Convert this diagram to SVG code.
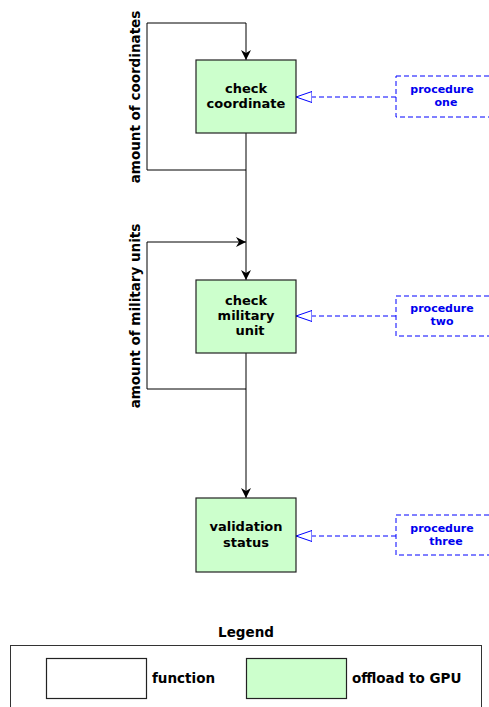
<svg xmlns="http://www.w3.org/2000/svg" width="489" height="707" viewBox="0 0 489 707">
<style>
  .node { fill: #ccffcc; stroke: #222222; stroke-width: 1.2; }
  .plain { fill: #ffffff; stroke: #222222; stroke-width: 1.2; }
  .lbl { font-family: "DejaVu Sans", sans-serif; font-weight: bold; font-size: 13px; fill: #000; text-anchor: middle; }
  .side { font-family: "DejaVu Sans", sans-serif; font-weight: bold; font-size: 13.5px; fill: #000; text-anchor: middle; }
  .proc { font-family: "DejaVu Sans", sans-serif; font-weight: bold; font-size: 11px; fill: #0000ee; text-anchor: middle; }
  .pbox { fill: none; stroke: #0000ff; stroke-width: 1; stroke-dasharray: 5,3; }
  .flow { fill: none; stroke: #000; stroke-width: 1; }
  .dash { fill: none; stroke: #0000ff; stroke-width: 1; stroke-dasharray: 5,3; }
  .leg { font-family: "DejaVu Sans", sans-serif; font-weight: bold; font-size: 13.5px; fill: #000; }
</style>
<defs>
  <marker id="arr" viewBox="0 0 10 10" refX="10" refY="5" markerWidth="10" markerHeight="10" markerUnits="userSpaceOnUse" orient="auto">
    <path d="M0,0 L10,5 L0,10 L3,5 Z" fill="#000"/>
  </marker>
  <marker id="tri" viewBox="0 0 16 12" refX="16" refY="6" markerWidth="16" markerHeight="12" markerUnits="userSpaceOnUse" orient="auto">
    <path d="M0,0.5 L16,6 L0,11.5 Z" fill="#fff" stroke="#0000ff" stroke-width="1"/>
  </marker>
</defs>
<rect width="489" height="707" fill="#fff"/>

<g id="connectors">
  <path class="flow" d="M246,133 V170 H147 V23 H246 V60" marker-end="url(#arr)"/>
  <path class="flow" d="M246,170 V280" marker-end="url(#arr)"/>
  <path class="flow" d="M246,353 V389 H147 V242 H246" marker-end="url(#arr)"/>
  <path class="flow" d="M246,389 V498" marker-end="url(#arr)"/>
  <path class="dash" d="M396,97 H296" marker-end="url(#tri)"/>
  <path class="dash" d="M396,316 H296" marker-end="url(#tri)"/>
  <path class="dash" d="M396,536 H296" marker-end="url(#tri)"/>
  <text class="side" transform="translate(140,97) rotate(-90)">amount of coordinates</text>
  <text class="side" transform="translate(140,316) rotate(-90)">amount of military units</text>
</g>

<g id="check-coordinate">
  <rect class="node" x="196" y="60" width="100" height="73"/>
  <text class="lbl" x="246" y="93">check</text>
  <text class="lbl" x="246" y="108">coordinate</text>
</g>
<g id="check-military-unit">
  <rect class="node" x="196" y="280" width="100" height="73"/>
  <text class="lbl" x="246" y="305">check</text>
  <text class="lbl" x="246" y="320">military</text>
  <text class="lbl" x="250" y="335">unit</text>
</g>
<g id="validation-status">
  <rect class="node" x="196" y="498" width="100" height="74"/>
  <text class="lbl" x="246" y="531">validation</text>
  <text class="lbl" x="246" y="547">status</text>
</g>

<g id="procedure-one">
  <rect class="pbox" x="396" y="76" width="100" height="41"/>
  <text class="proc" x="442" y="93">procedure</text>
  <text class="proc" x="446" y="106">one</text>
</g>
<g id="procedure-two">
  <rect class="pbox" x="396" y="296" width="100" height="40"/>
  <text class="proc" x="442" y="312">procedure</text>
  <text class="proc" x="442" y="325">two</text>
</g>
<g id="procedure-three">
  <rect class="pbox" x="396" y="515" width="100" height="40"/>
  <text class="proc" x="442" y="532">procedure</text>
  <text class="proc" x="446" y="545">three</text>
</g>

<g id="legend">
  <text class="leg" x="246" y="637" text-anchor="middle">Legend</text>
  <rect x="10.5" y="645.5" width="471" height="70" fill="#fff" stroke="#333" stroke-width="1"/>
  <rect class="plain" x="46.5" y="658.5" width="100" height="40"/>
  <text class="leg" x="152" y="683">function</text>
  <rect class="node" x="246.5" y="658.5" width="100" height="40"/>
  <text class="leg" x="352" y="683">offload to GPU</text>
</g>
</svg>
